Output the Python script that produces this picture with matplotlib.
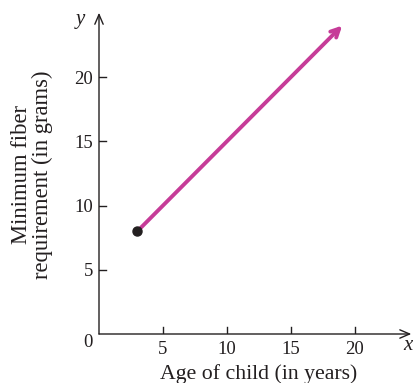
import matplotlib
matplotlib.use("Agg")
import matplotlib.pyplot as plt

# Data
ages = [3, 19]            # start and end of ray (years)
fiber = [8, 24]           # minimum fiber (grams)
x_ticks = [5, 10, 15, 20]
y_ticks = [5, 10, 15, 20]
x_max, y_max = 24.4, 25.0

plt.rcParams['font.family'] = ['Liberation Serif', 'DejaVu Serif']

PX_X, PX_Y = 12.8, 12.85
fig = plt.figure(figsize=(4.14, 3.83), dpi=100)
ax = fig.add_axes([99/414, 49/383, (x_max*PX_X)/414, (y_max*PX_Y)/383])
ax.set_xlim(0, x_max)
ax.set_ylim(0, y_max)
ax.axis('off')

axis_col = '#231F20'
tick_fs = 13.5
# axes with open arrowheads
ax.annotate('', xy=(x_max, 0), xytext=(0, 0),
            arrowprops=dict(arrowstyle='->,head_length=0.7,head_width=0.3', color=axis_col, lw=1.0,
                            shrinkA=0, shrinkB=0), annotation_clip=False)
ax.annotate('', xy=(0, y_max), xytext=(0, 0),
            arrowprops=dict(arrowstyle='->,head_length=0.7,head_width=0.3', color=axis_col, lw=1.0,
                            shrinkA=0, shrinkB=0), annotation_clip=False)

for t in x_ticks:
    ax.plot([t, t], [0, 7/PX_Y], color=axis_col, lw=1.0)
    ax.text(t, -20/PX_Y, str(t), ha='center', va='baseline', fontsize=tick_fs, color=axis_col)
for t in y_ticks:
    ax.plot([0, 7/PX_X], [t, t], color=axis_col, lw=1.0)
    ax.text(-6/PX_X, t - 6.5/PX_Y, str(t), ha='right', va='baseline', fontsize=tick_fs, color=axis_col)
ax.text(-6/PX_X, -13/PX_Y, '0', ha='right', va='baseline', fontsize=tick_fs, color=axis_col)

ax.text(-14/PX_X, y_max - 7/PX_Y, 'y', ha='right', va='center', fontsize=15, style='italic', color=axis_col)
ax.text((408-99)/PX_X, -12/PX_Y, 'x', ha='center', va='center', fontsize=15, style='italic', color=axis_col)

# ray
line_col = '#C63C98'
ax.annotate('', xy=(ages[1], fiber[1]), xytext=(ages[0], fiber[0]),
            arrowprops=dict(arrowstyle='->,head_length=0.6,head_width=0.3', color=line_col, lw=2.8,
                            shrinkA=0, shrinkB=0), annotation_clip=False)
ax.plot([ages[0]], [fiber[0]], 'o', color=axis_col, markersize=6.5, zorder=5)

fig.text(259/414, 1 - 379/383, 'Age of child (in years)', ha='center', va='baseline',
         fontsize=15.7, color=axis_col)
fig.text(32/414, 1 - 175/383, 'Minimum fiber\nrequirement (in grams)', ha='center', va='center',
         rotation=90, fontsize=16.3, color=axis_col, linespacing=1.0)

fig.savefig('out.png', dpi=100)
